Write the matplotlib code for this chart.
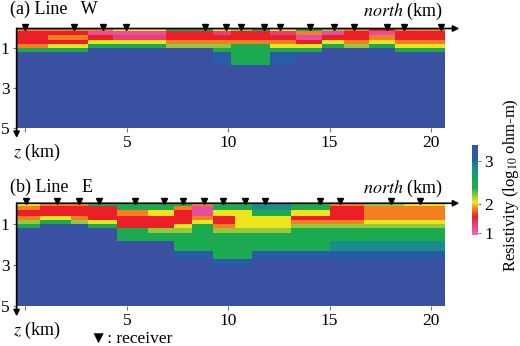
import numpy as np
import matplotlib
matplotlib.use('Agg')
import matplotlib.pyplot as plt
from matplotlib.colors import LinearSegmentedColormap, FuncNorm

plt.rcParams['font.family'] = ['Liberation Serif', 'DejaVu Sans']
plt.rcParams['mathtext.fontset'] = 'stix'

#layer depths (km), shared by both lines
z_edges = [0, 0.15, 0.35, 0.6, 0.8, 1.0, 1.2, 1.45, 1.85, 2.3, 2.7, 3.1, 5.0]

#line W: cell edges along north (km), receivers, log10 resistivity (rows = layers)
x_edges_w = [-0.43, 1.13, 3.07, 4.34, 6.92, 9.27, 10.13, 11.2, 12.04, 13.36, 14.63, 15.69, 16.96, 18.25, 19.52, 20.7]
recv_w = [0.0, 2.4, 3.81, 4.96, 8.86, 9.9, 10.63, 11.79, 12.57, 14.05, 15.23, 16.22, 17.85, 18.69, 20.5]
rho_w = [
    [1.85, 1.85, 1.85, 2.05, 2.45, 2.05, 2.2, 2.45, 2.05, 2.45, 2.2, 1.85, 1.55, 1.85, 1.85],
    [1.55, 1.55, 1.15, 1.15, 1.55, 1.3, 1.55, 1.55, 1.3, 1.85, 1.15, 1.55, 1.15, 1.55, 1.55],
    [1.55, 1.85, 1.55, 1.3, 1.55, 1.55, 1.55, 1.55, 1.55, 1.15, 1.55, 1.55, 1.85, 1.55, 1.55],
    [1.55, 1.55, 2.05, 2.05, 1.85, 1.85, 1.85, 1.85, 1.85, 1.55, 2.05, 1.85, 2.05, 1.85, 1.85],
    [1.85, 2.05, 2.45, 2.45, 2.2, 2.2, 2.45, 2.45, 2.05, 2.05, 2.45, 2.2, 2.45, 2.05, 2.05],
    [2.45, 2.45, 3.3, 3.3, 3.3, 2.45, 2.45, 2.45, 2.45, 2.45, 3.3, 3.3, 3.3, 2.45, 2.45],
    [3.3, 3.3, 3.3, 3.3, 3.3, 3.1, 2.45, 2.45, 3.1, 3.3, 3.3, 3.3, 3.3, 3.3, 3.3],
    [3.3, 3.3, 3.3, 3.3, 3.3, 3.1, 2.45, 2.45, 3.1, 3.3, 3.3, 3.3, 3.3, 3.3, 3.3],
    [3.3] * 15,
    [3.3] * 15,
    [3.3] * 15,
    [3.3] * 15,
]

#line E
x_edges_e = [-0.43, 0.72, 2.25, 3.07, 4.53, 6.03, 7.33, 8.21, 9.23, 10.35, 11.17, 13.1, 15.04, 16.72, 18.66, 20.7]
recv_e = [0.02, 1.57, 2.65, 3.63, 5.41, 6.84, 7.79, 8.81, 9.74, 10.84, 11.83, 14.51, 15.53, 18.04, 19.45]
rho_e = [
    [2.05, 1.85, 1.85, 2.45, 2.45, 2.45, 2.45, 1.85, 2.45, 2.45, 2.85, 2.45, 1.85, 2.2, 2.05],
    [1.85, 1.55, 1.55, 1.55, 2.45, 2.45, 1.85, 1.15, 2.45, 2.45, 2.85, 2.45, 1.55, 1.85, 1.85],
    [1.55, 1.55, 1.55, 1.55, 1.85, 2.05, 1.55, 1.15, 2.05, 2.05, 2.45, 2.05, 1.55, 1.85, 1.85],
    [1.85, 2.05, 1.85, 1.55, 1.55, 1.55, 1.55, 1.85, 1.55, 2.05, 2.05, 1.55, 1.55, 1.85, 1.85],
    [2.2, 2.45, 2.2, 2.05, 1.55, 1.55, 1.55, 2.05, 1.55, 2.05, 2.05, 1.85, 1.85, 2.05, 2.05],
    [2.45, 3.3, 3.1, 2.45, 1.55, 1.55, 2.05, 2.45, 1.85, 2.05, 2.05, 2.2, 2.2, 2.2, 2.2],
    [3.3, 3.3, 3.3, 3.3, 2.45, 2.2, 2.2, 2.45, 2.2, 2.2, 2.2, 2.45, 2.45, 2.45, 2.45],
    [3.3, 3.3, 3.3, 3.3, 2.45, 2.45, 2.45, 2.45, 2.45, 2.45, 2.45, 2.45, 2.45, 2.45, 2.45],
    [3.3, 3.3, 3.3, 3.3, 3.3, 3.3, 2.45, 2.45, 2.45, 2.45, 2.45, 2.45, 2.85, 2.85, 2.85],
    [3.3, 3.3, 3.3, 3.3, 3.3, 3.3, 3.1, 3.1, 2.45, 2.45, 3.1, 3.1, 3.1, 3.1, 3.1],
    [3.3, 3.3, 3.3, 3.3, 3.3, 3.3, 3.3, 3.3, 3.1, 3.1, 3.3, 3.3, 3.3, 3.3, 3.3],
    [3.3] * 15,
]

#colour scale: bar is stretched more between 2 and 3 than between 1 and 2
knots_v = [0.92, 1.0, 2.0, 3.0, 3.375]
knots_f = [0.0, 0.026, 0.34, 0.82, 1.0]

def fwd(v):
    return np.interp(v, knots_v, knots_f)

def inv(f):
    return np.interp(f, knots_f, knots_v)

norm = FuncNorm((fwd, inv), vmin=0.92, vmax=3.375)
cmap = LinearSegmentedColormap.from_list('res', [
    (0.0, '#e070b8'), (0.08, '#e84a9a'), (0.14, '#ec3560'), (0.2, '#ec1c24'),
    (0.27, '#f36a21'), (0.31, '#f7941d'), (0.36, '#f4e61a'), (0.43, '#9ccb3b'),
    (0.52, '#1fae4b'), (0.65, '#16a160'), (0.75, '#1a8c8a'), (0.84, '#1f62aa'),
    (0.92, '#3852a3'), (1.0, '#3b4fa0')])

fig = plt.figure(figsize=(5.2, 3.46), dpi=100)

def px(x, y):
    return x / 520, 1 - y / 346

def panel(rect, x_edges, rho, recv, title, ty, ny, zy):
    ax = fig.add_axes(rect)
    m = ax.pcolormesh(x_edges, z_edges, np.array(rho), cmap=cmap, norm=norm)
    ax.set_xlim(x_edges[0], x_edges[-1])
    ax.set_ylim(5, 0)
    for s in ax.spines.values():
        s.set_visible(False)
    ax.set_xticks([0, 5, 10, 15, 20])
    ax.set_xticklabels(['', '5', '10', '15', '20'])
    ax.set_yticks([1, 3, 5])
    ax.tick_params(direction='out', length=3, width=0.8, color='0.45', labelsize=12.5, pad=2)
    #axis arrows
    ax.annotate('', xy=(21.4, 0), xytext=(x_edges[0], 0), annotation_clip=False,
                arrowprops=dict(arrowstyle='-|>', color='k', lw=1.2, mutation_scale=9, shrinkA=0, shrinkB=0))
    ax.annotate('', xy=(x_edges[0], 5.5), xytext=(x_edges[0], 0), annotation_clip=False,
                arrowprops=dict(arrowstyle='-|>', color='k', lw=1.2, mutation_scale=9, shrinkA=0, shrinkB=0))
    ax.plot(recv, [-0.1] * len(recv), 'kv', ms=5, clip_on=False)
    fig.text(*px(10, ty), title, fontsize=13, va='center', ha='left')
    fig.text(*px(443, ny), r'$\it{north}$ (km)', fontsize=13, va='center', ha='right')
    fig.text(*px(13, zy), r'$\it{z}$ (km)', fontsize=13, va='center', ha='left')
    return m

panel([0.032, 0.630, 0.824, 0.2876], x_edges_w, rho_w, recv_w, '(a) Line   W', 9, 11, 152)
m = panel([0.032, 0.1156, 0.824, 0.297], x_edges_e, rho_e, recv_e, '(b) Line   E', 187, 188, 330)

cax = fig.add_axes([0.907, 0.321, 0.0115, 0.26])
cb = fig.colorbar(m, cax=cax, ticks=[1, 2, 3])
cb.outline.set_visible(False)
cax.tick_params(length=2, width=0.8, color='0.45', labelsize=12.5, pad=3)
fig.text(*px(511, 272), r'Resistivity (log$_{10}$ ohm-m)', fontsize=12, rotation=90, va='bottom', ha='center')

fig.text(*px(90, 339), '▼: receiver', fontsize=12.5, va='center', ha='left')

fig.savefig('out.png', dpi=100)
